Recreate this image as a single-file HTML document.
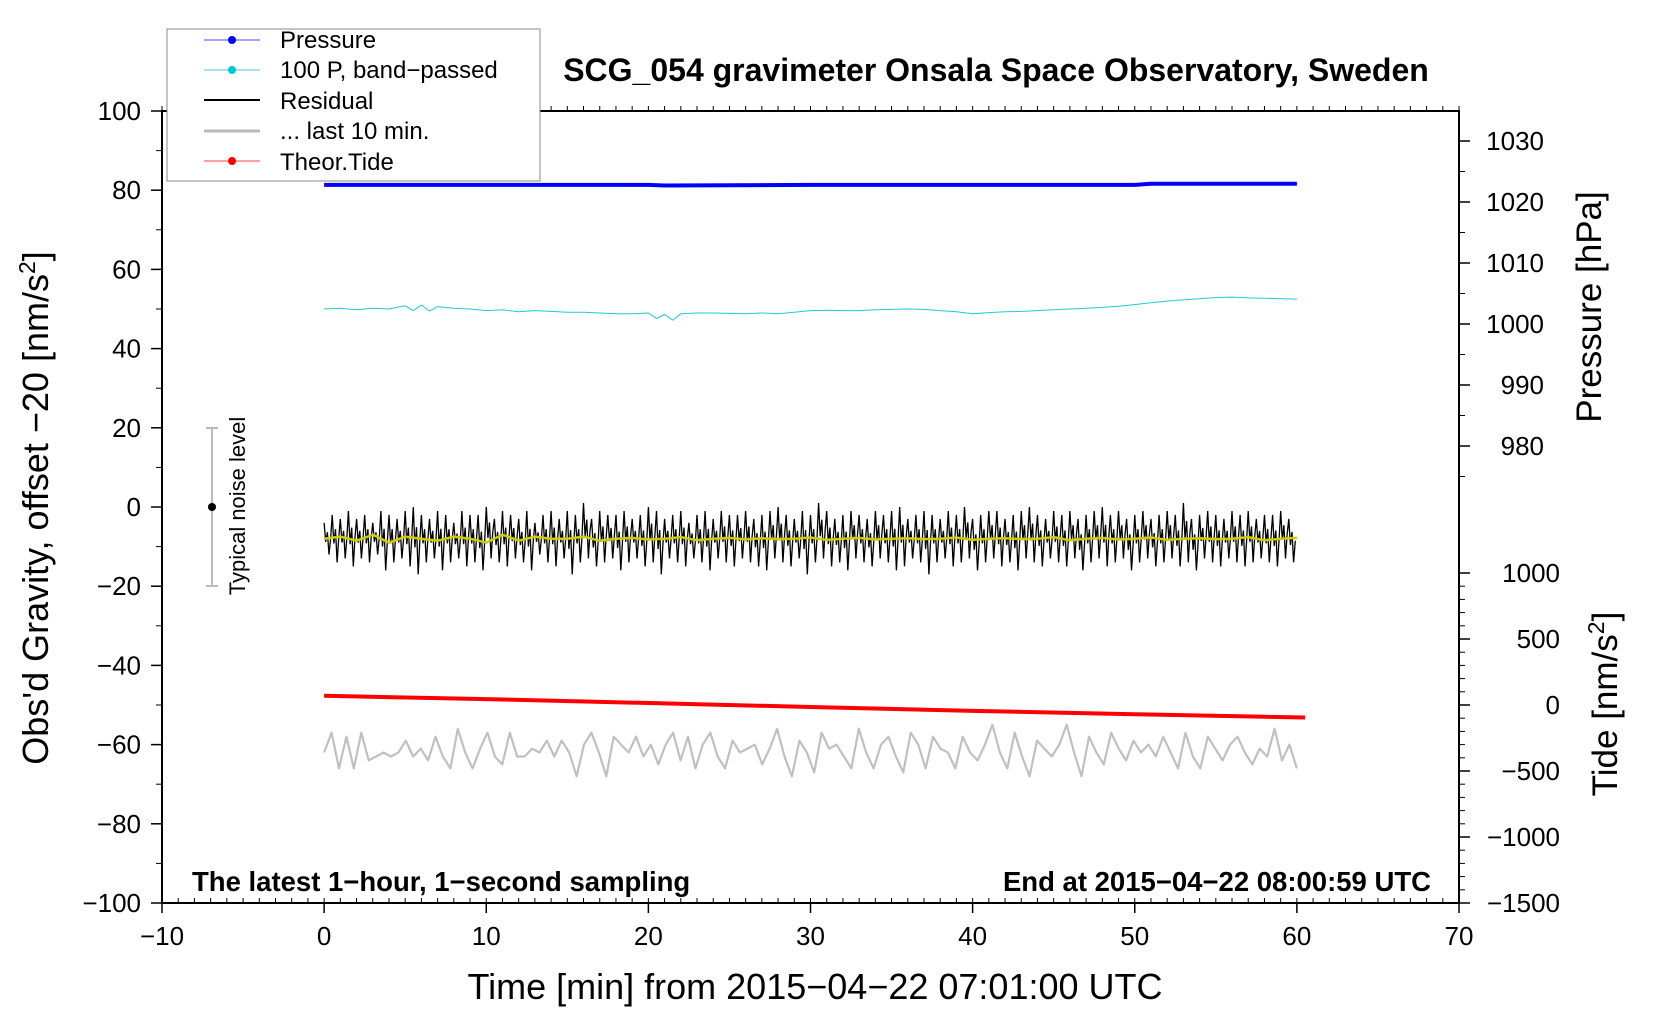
<!DOCTYPE html>
<html><head><meta charset="utf-8"><style>
html,body{margin:0;padding:0;background:#fff;}
svg{display:block;font-family:"Liberation Sans",sans-serif;}
</style></head><body>
<svg id="chart" width="1660" height="1020" viewBox="0 0 1660 1020" xmlns="http://www.w3.org/2000/svg">
<g id="axes"></g>
<g id="series"></g>
<text x="996" y="81" font-size="32" font-weight="bold" text-anchor="middle">SCG_054 gravimeter Onsala Space Observatory, Sweden</text>
<text x="815" y="999" font-size="36" text-anchor="middle">Time [min] from 2015−04−22 07:01:00 UTC</text>
<text transform="translate(48,508) rotate(-90)" font-size="36" text-anchor="middle">Obs'd Gravity, offset −20 [nm/s<tspan font-size="23" dy="-13">2</tspan><tspan dy="13">]</tspan></text>
<text transform="translate(1601,307) rotate(-90)" font-size="35" text-anchor="middle">Pressure [hPa]</text>
<text transform="translate(1617,704) rotate(-90)" font-size="35" text-anchor="middle">Tide [nm/s<tspan font-size="23" dy="-13">2</tspan><tspan dy="13">]</tspan></text>
<text x="192" y="891" font-size="27.5" font-weight="bold">The latest 1−hour, 1−second sampling</text>
<text x="1431" y="891" font-size="27.5" font-weight="bold" text-anchor="end">End at 2015−04−22 08:00:59 UTC</text>
<g>
<line x1="212" x2="212" y1="428" y2="586" stroke="#bbb" stroke-width="2"/>
<line x1="206" x2="218" y1="428" y2="428" stroke="#bbb" stroke-width="2"/>
<line x1="206" x2="218" y1="586" y2="586" stroke="#bbb" stroke-width="2"/>
<circle cx="212" cy="507" r="4" fill="#000"/>
<text transform="translate(245,506) rotate(-90)" font-size="22" text-anchor="middle">Typical noise level</text>
</g>
<g>
<rect x="167" y="29" width="373" height="152" fill="#fff" stroke="#888" stroke-width="1"/>
<g><line x1="204" x2="260" y1="40" y2="40" stroke="#44f" stroke-width="1"/><circle cx="232" cy="40" r="4" fill="#00f"/><text x="280" y="48" font-size="24">Pressure</text></g>
<g><line x1="204" x2="260" y1="70" y2="70" stroke="#4cc" stroke-width="1"/><circle cx="232" cy="70" r="4" fill="#0cc"/><text x="280" y="78" font-size="24">100 P, band−passed</text></g>
<g><line x1="204" x2="260" y1="100" y2="100" stroke="#000" stroke-width="2"/><text x="280" y="109" font-size="24">Residual</text></g>
<g><line x1="204" x2="260" y1="131" y2="131" stroke="#bbb" stroke-width="3"/><text x="280" y="139" font-size="24">... last 10 min.</text></g>
<g><line x1="204" x2="260" y1="161" y2="161" stroke="#f44" stroke-width="1"/><circle cx="232" cy="161" r="4" fill="#f00"/><text x="280" y="170" font-size="24">Theor.Tide</text></g>
</g>
</svg>
<script>
// ---- data ----
const pressTimes = [0, 10, 20, 21, 30, 40, 50, 51, 60];
const pressValues = [1022.8, 1022.8, 1022.8, 1022.7, 1022.8, 1022.8, 1022.8, 1023.0, 1023.0];
const bandTimes = [0,1,2,3,4,5,5.5,6,6.5,7,8,9,10,11,12,13,14,15,16,17,18,19,20,20.5,21,21.5,22,23,24,25,26,27,28,29,30,31,32,33,34,35,36,37,38,39,40,41,42,43,44,45,46,47,48,49,50,51,52,53,54,55,56,57,58,59,60];
const bandValues = [50,50.2,49.8,50.2,50,50.8,49.6,51,49.5,50.6,50.2,50,49.6,49.8,49.3,49.6,49.4,49.2,49.2,49,48.8,48.8,49,47.6,48.6,47.2,48.8,49,49,48.9,48.8,49,48.8,49.2,49.6,49.7,49.6,49.6,49.8,49.9,50,49.9,49.6,49.3,48.8,49.1,49.3,49.4,49.6,49.8,50,50.2,50.4,50.7,51.1,51.6,52,52.3,52.6,52.9,53,52.8,52.7,52.6,52.5];
const resHi = [-4,-2,-3,-1,-3,-2,-4,-1,-2,-3,-1,0,-2,-3,-1,-2,-4,-1,-2,-2,0,-3,-1,-2,-3,-1,-4,-2,-1,-3,-1,-2,1,-3,-1,-2,-2,-1,-3,-2,0,-1,-3,-2,-1,-4,-2,-1,-3,-1,-2,-2,-1,-3,-2,-1,0,-2,-3,-1,-2,1,-1,-3,-2,-1,-2,-3,-1,-2,-1,0,-3,-2,-1,-2,-3,-1,-2,0,-3,-2,-1,-1,-3,-2,-1,0,-2,-3,-1,-2,-1,-3,-2,-1,0,-2,-1,-3,-2,-1,-3,-2,-1,-2,1,-3,-2,-1,-2,-3,-1,-2,-1,-3,-2,-2,-1,-3];
const resLo = [-12,-14,-13,-15,-13,-14,-12,-16,-14,-13,-15,-17,-14,-13,-16,-14,-13,-15,-14,-16,-13,-14,-15,-13,-14,-16,-12,-14,-15,-13,-17,-14,-13,-15,-14,-13,-16,-14,-13,-15,-14,-17,-13,-14,-15,-13,-14,-16,-13,-14,-15,-13,-14,-15,-16,-13,-14,-15,-13,-17,-14,-13,-15,-14,-16,-13,-14,-15,-13,-14,-16,-15,-13,-14,-17,-14,-13,-15,-14,-13,-16,-14,-13,-15,-14,-16,-13,-14,-15,-13,-14,-15,-13,-16,-14,-13,-15,-14,-13,-16,-14,-13,-15,-14,-13,-15,-14,-16,-13,-14,-15,-13,-14,-15,-14,-13,-14,-15,-13,-14];
const smoothValues = [-8,-7.5,-8.5,-7,-9,-7.5,-8,-8.5,-7.5,-8,-9,-7,-8.5,-7.5,-8,-8,-7.5,-8.5,-8,-7.8,-8.2,-8,-7.6,-8.4,-8,-7.8,-8.2,-7.9,-8.1,-8,-7.7,-8.3,-8,-7.8,-8.2,-8,-7.9,-8.1,-8,-7.7,-8.3,-8,-7.9,-8.1,-8,-7.6,-8.4,-8,-7.8,-8.2,-8,-7.7,-8.3,-8,-7.9,-8.1,-8,-7.6,-8.4,-8,-7.8];
const grayValues = [-62,-57,-66,-58,-66,-57,-64,-63,-62,-63,-62,-59,-63,-61,-64,-58,-63,-66,-56,-62,-66,-61,-57,-63,-65,-57,-63,-63,-61,-62,-59,-63,-59,-62,-68,-60,-57,-62,-68,-58,-60,-62,-58,-63,-60,-65,-60,-57,-64,-58,-66,-60,-57,-63,-66,-59,-62,-61,-60,-65,-61,-56,-63,-68,-59,-62,-67,-57,-61,-60,-63,-66,-56,-62,-66,-60,-58,-63,-67,-57,-60,-66,-58,-61,-62,-66,-58,-62,-64,-60,-55,-62,-66,-57,-63,-68,-59,-61,-63,-60,-55,-62,-68,-58,-62,-65,-57,-61,-64,-59,-62,-60,-63,-58,-62,-66,-57,-63,-66,-58,-61,-64,-60,-58,-62,-65,-61,-63,-56,-64,-60,-66];
const tideTimes = [0, 10, 20, 30, 40, 50, 60.5];
const tideValues = [70, 45, 15, -15, -45, -70, -95];
const xTicks = [-10,0,10,20,30,40,50,60,70];
const yTicks = [-100,-80,-60,-40,-20,0,20,40,60,80,100];
const pTicks = [980,990,1000,1010,1020,1030];
const tTicks = [-1500,-1000,-500,0,500,1000];

// ---- scales ----
const L=162,R=1459,T=111,B=903;
const xs = t => L + (t+10)*(R-L)/80;
const ys = v => T + (100-v)*(B-T)/200;
const yp = p => 141 + (1030-p)*6.1;
const yt = v => 573 + (1000-v)*0.132;
const NS="http://www.w3.org/2000/svg";
const axes=document.getElementById('axes'), ser=document.getElementById('series');
function mk(tag, attrs, parent){const e=document.createElementNS(NS,tag);for(const k in attrs)e.setAttribute(k,attrs[k]);parent.appendChild(e);return e;}

const frame = mk('rect',{x:L,y:T,width:R-L,height:B-T,fill:'none',stroke:'#000','stroke-width':2},axes);


for(let t=-10;t<=70;t++){
  mk('line',{x1:xs(t),x2:xs(t),y1:T,y2:T-5,stroke:'#000','stroke-width':1},axes);
  mk('line',{x1:xs(t),x2:xs(t),y1:B,y2:B-5,stroke:'#000','stroke-width':1},axes);
}
xTicks.forEach(t=>{
  mk('line',{x1:xs(t),x2:xs(t),y1:B,y2:B+10,stroke:'#000','stroke-width':1.5},axes);
  const tx=mk('text',{x:xs(t),y:B+42,'font-size':26,'text-anchor':'middle'},axes);
  tx.textContent=String(t).replace('-','−');
  
  
});
for(let v=-100;v<=100;v+=10) mk('line',{x1:L,x2:L-6,y1:ys(v),y2:ys(v),stroke:'#000','stroke-width':1},axes);
yTicks.forEach(v=>{
  mk('line',{x1:L,x2:L-11,y1:ys(v),y2:ys(v),stroke:'#000','stroke-width':1.5},axes);
  const tx=mk('text',{x:L-21,y:ys(v)+9,'font-size':26,'text-anchor':'end'},axes);
  tx.textContent=String(v).replace('-','−');
  
  
});
for(let p=975;p<=1035;p+=5) if(yp(p)>=T) mk('line',{x1:R,x2:R+6,y1:yp(p),y2:yp(p),stroke:'#000','stroke-width':1},axes);
pTicks.forEach(p=>{
  mk('line',{x1:R,x2:R+11,y1:yp(p),y2:yp(p),stroke:'#000','stroke-width':1.5},axes);
  const tx=mk('text',{x:1544,y:yp(p)+9,'font-size':26,'text-anchor':'end'},axes);
  tx.textContent=String(p);
  
  
});
for(let v=-1500;v<=1000;v+=100) mk('line',{x1:R,x2:R+6,y1:yt(v),y2:yt(v),stroke:'#000','stroke-width':1},axes);
tTicks.forEach(v=>{
  mk('line',{x1:R,x2:R+11,y1:yt(v),y2:yt(v),stroke:'#000','stroke-width':1.5},axes);
  const tx=mk('text',{x:1560,y:yt(v)+9,'font-size':26,'text-anchor':'end'},axes);
  tx.textContent=String(v).replace('-','−');
  
  
});

function path(pts){return 'M'+pts.map(p=>p[0].toFixed(1)+','+p[1].toFixed(1)).join('L');}
const pp=mk('path',{d:path(pressTimes.map((t,i)=>[xs(t),yp(pressValues[i])])),fill:'none',stroke:'#00f','stroke-width':4},ser);


const bp=mk('path',{d:path(bandTimes.map((t,i)=>[xs(t),ys(bandValues[i])])),fill:'none',stroke:'#2cc','stroke-width':1},ser);


// residual: each 30 s bin drawn as spikes spanning its min/max envelope
const rpts=[];
const n=resHi.length, dt=60/n;
resHi.forEach((h,i)=>{
  const lo=resLo[i], t=i*dt;
  rpts.push([xs(t),ys(h)]);
  rpts.push([xs(t+dt*0.2),ys(lo*0.6+h*0.4)]);
  rpts.push([xs(t+dt*0.4),ys(h*0.7+lo*0.3)]);
  rpts.push([xs(t+dt*0.6),ys(lo)]);
  rpts.push([xs(t+dt*0.8),ys(h*0.5+lo*0.5)]);
});
const rp=mk('path',{d:path(rpts),fill:'none',stroke:'#000','stroke-width':1.3},ser);


const sp=mk('path',{d:path(smoothValues.map((v,i)=>[xs(i*60/(smoothValues.length-1)),ys(v)])),fill:'none',stroke:'#cc0','stroke-width':2.5},ser);


const tp=mk('path',{d:path(tideTimes.map((t,i)=>[xs(t),yt(tideValues[i])])),fill:'none',stroke:'#f00','stroke-width':4},ser);


const gp=mk('path',{d:path(grayValues.map((v,i)=>[xs(i*60/(grayValues.length-1)),ys(v)])),fill:'none',stroke:'#c0c0c0','stroke-width':2.2,'stroke-linejoin':'round'},ser);


</script>
</body></html>
